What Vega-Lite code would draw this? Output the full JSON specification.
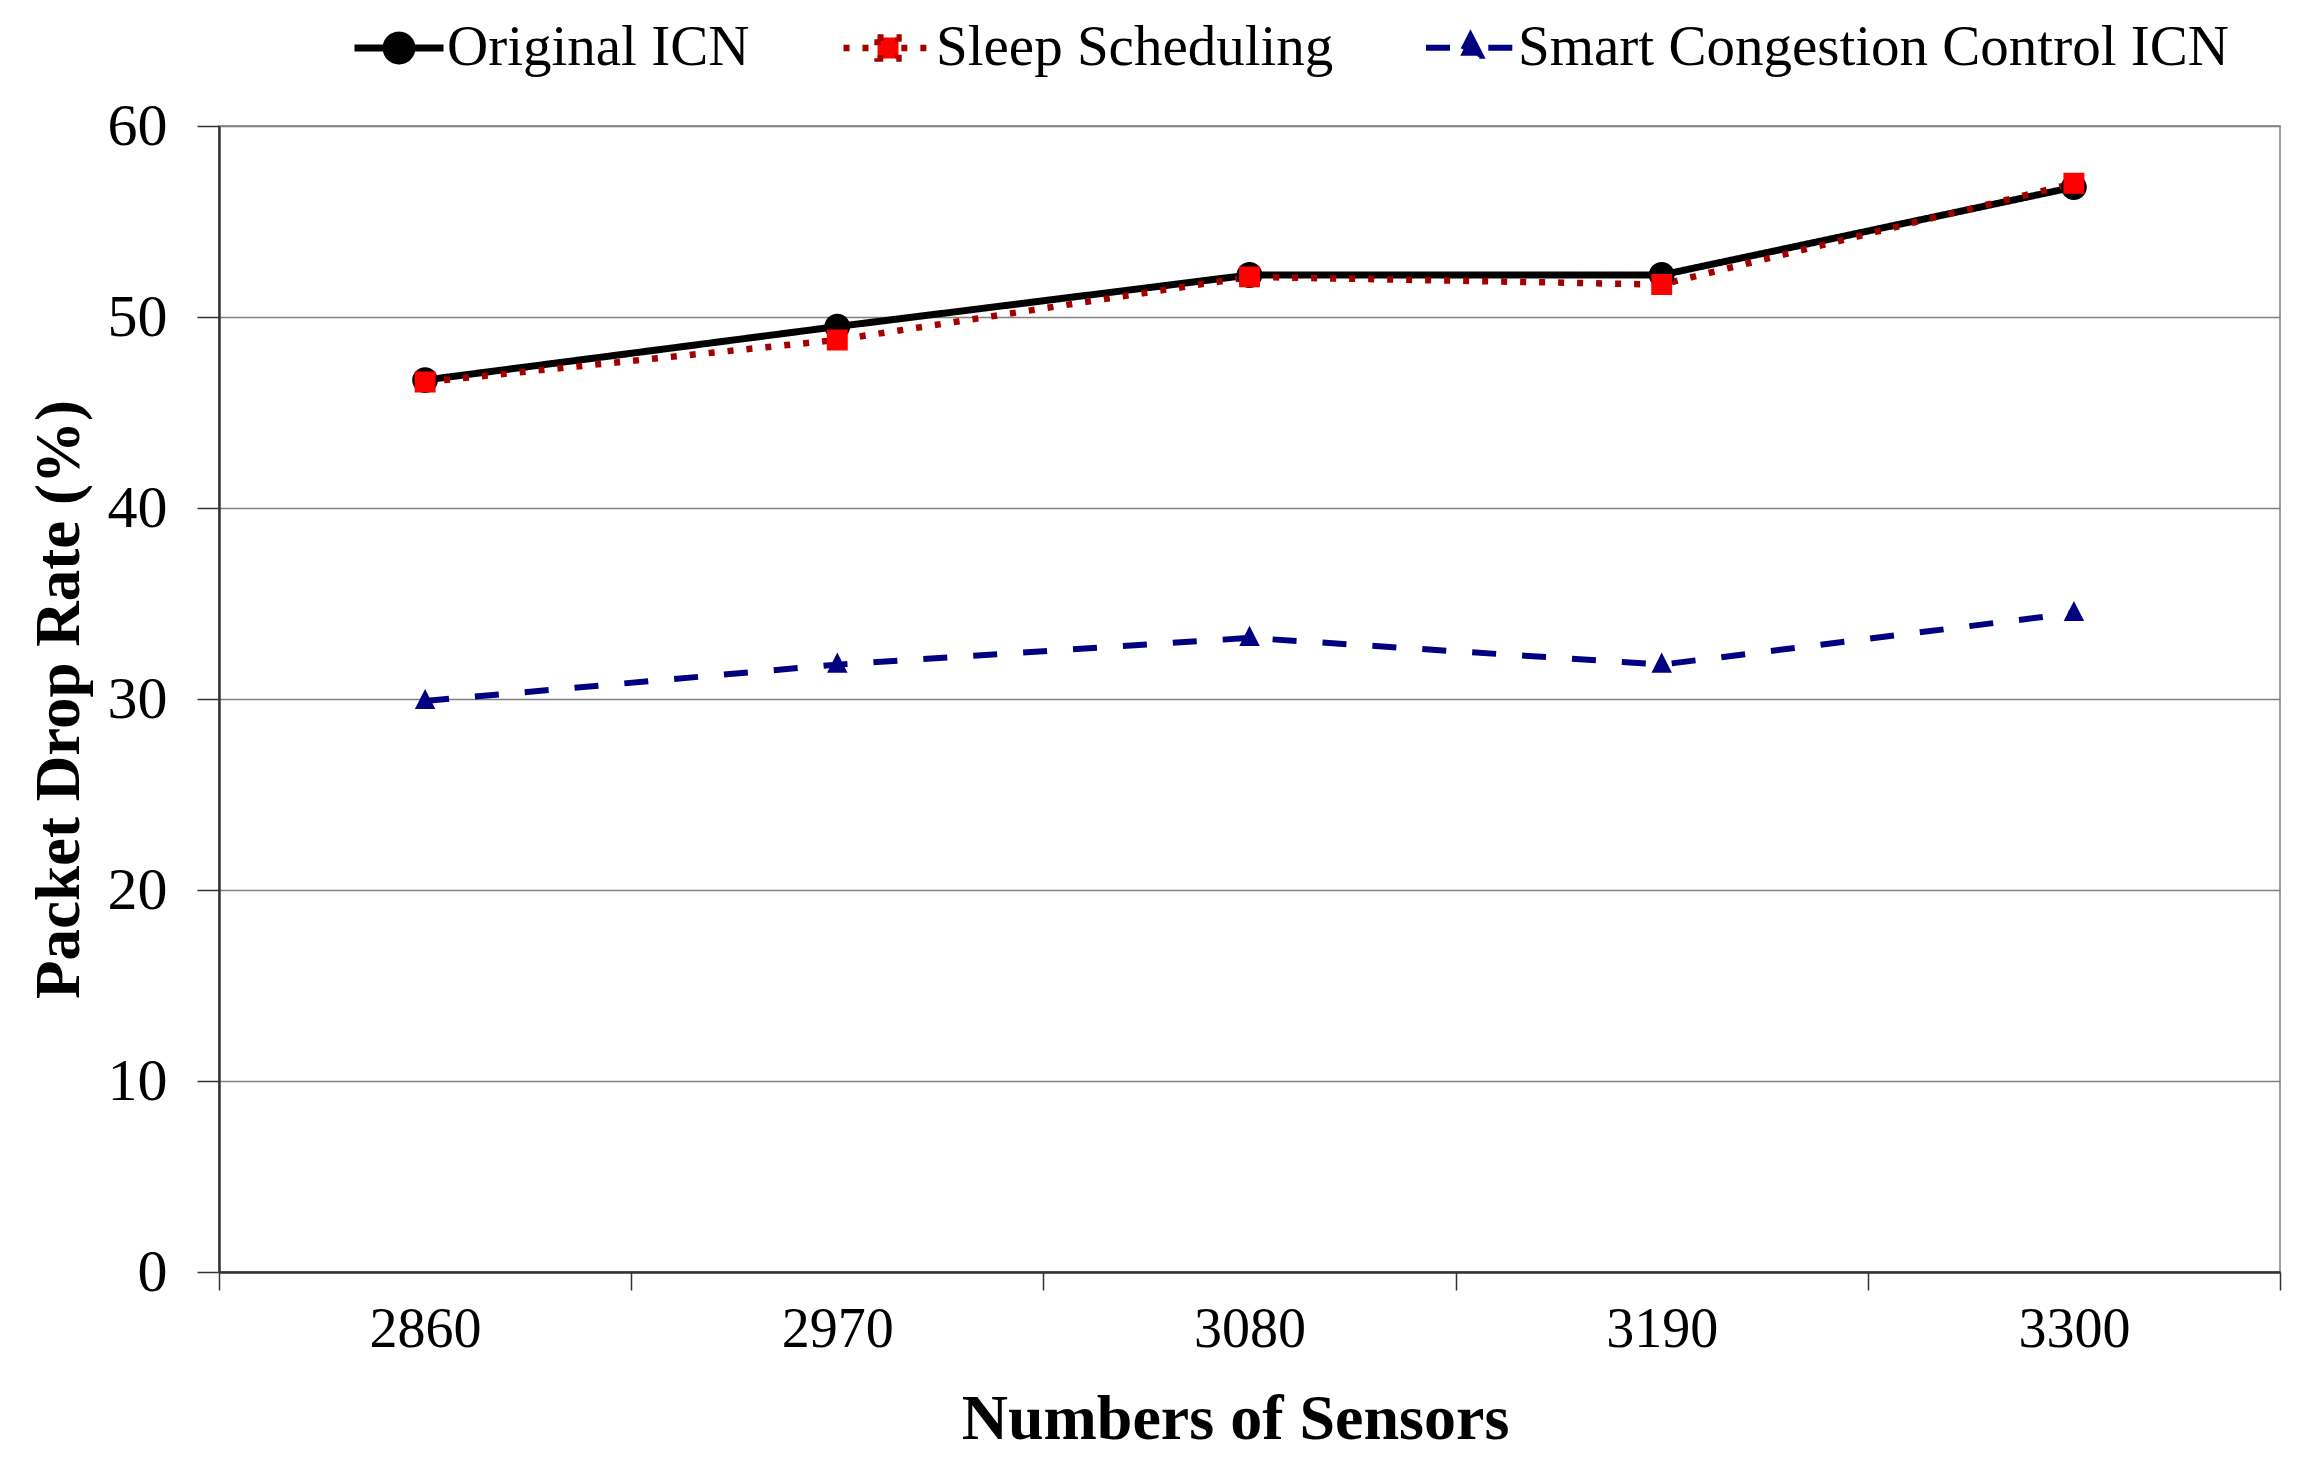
{
  "$schema": "https://vega.github.io/schema/vega-lite/v6.json",
  "width": 2061,
  "height": 1146,
  "autosize": {"type": "none"},
  "padding": {"left": 219, "top": 126, "right": 32, "bottom": 212},
  "background": "white",
  "config": {
    "font": "Liberation Serif",
    "view": {"stroke": "#808080", "strokeWidth": 1.5},
    "legend": {
      "orient": "none",
      "legendX": 132,
      "legendY": -126,
      "direction": "horizontal",
      "padding": 0,
      "labelFont": "Liberation Serif",
      "labelFontSize": 57,
      "labelColor": "#000000",
      "labelLimit": 1000,
      "labelOffset": 0,
      "columnPadding": 80,
      "symbolSize": 7921,
      "symbolOpacity": 1
    }
  },
  "data": {
    "values": [
      {"sensors": "2860", "series": "Original ICN", "rate": 46.7},
      {"sensors": "2970", "series": "Original ICN", "rate": 49.5},
      {"sensors": "3080", "series": "Original ICN", "rate": 52.2},
      {"sensors": "3190", "series": "Original ICN", "rate": 52.2},
      {"sensors": "3300", "series": "Original ICN", "rate": 56.8},
      {"sensors": "2860", "series": "Sleep Scheduling", "rate": 46.6},
      {"sensors": "2970", "series": "Sleep Scheduling", "rate": 48.8},
      {"sensors": "3080", "series": "Sleep Scheduling", "rate": 52.1},
      {"sensors": "3190", "series": "Sleep Scheduling", "rate": 51.7},
      {"sensors": "3300", "series": "Sleep Scheduling", "rate": 57.0},
      {"sensors": "2860", "series": "Smart Congestion Control ICN", "rate": 29.9},
      {"sensors": "2970", "series": "Smart Congestion Control ICN", "rate": 31.8},
      {"sensors": "3080", "series": "Smart Congestion Control ICN", "rate": 33.2},
      {"sensors": "3190", "series": "Smart Congestion Control ICN", "rate": 31.8},
      {"sensors": "3300", "series": "Smart Congestion Control ICN", "rate": 34.5}
    ]
  },
  "encoding": {
    "x": {
      "field": "sensors",
      "type": "ordinal",
      "scale": {"type": "band", "paddingInner": 0, "paddingOuter": 0},
      "axis": {
        "tickBand": "extent",
        "grid": false,
        "labelAngle": 0,
        "domainColor": "#333333",
        "domainWidth": 2.5,
        "tickColor": "#333333",
        "tickWidth": 1.5,
        "tickSize": 18,
        "labelFont": "Liberation Serif",
        "labelFontSize": 56,
        "labelColor": "#000000",
        "labelPadding": 12,
        "title": "Numbers of Sensors",
        "titleFont": "Liberation Serif",
        "titleFontSize": 64,
        "titleFontWeight": "bold",
        "titleColor": "#000000",
        "titlePadding": 30,
        "titleX": 1016
      }
    },
    "y": {
      "field": "rate",
      "type": "quantitative",
      "scale": {"domain": [0, 60], "nice": false},
      "axis": {
        "values": [0, 10, 20, 30, 40, 50, 60],
        "grid": true,
        "gridColor": "#808080",
        "gridWidth": 1.5,
        "domainColor": "#333333",
        "domainWidth": 2.5,
        "tickColor": "#333333",
        "tickWidth": 1.5,
        "tickSize": 22,
        "labelFont": "Liberation Serif",
        "labelFontSize": 60,
        "labelColor": "#000000",
        "labelPadding": 30,
        "title": "Packet Drop Rate (%)",
        "titleFont": "Liberation Serif",
        "titleFontSize": 63,
        "titleFontWeight": "bold",
        "titleColor": "#000000",
        "titlePadding": 16
      }
    }
  },
  "layer": [
    {
      "mark": {"type": "line", "strokeCap": "butt"},
      "encoding": {
        "color": {
          "field": "series",
          "type": "nominal",
          "scale": {
            "domain": ["Original ICN", "Sleep Scheduling", "Smart Congestion Control ICN"],
            "range": ["#000000", "#A50000", "#000080"]
          },
          "legend": {"title": null}
        },
        "strokeDash": {
          "field": "series",
          "type": "nominal",
          "scale": {
            "domain": ["Original ICN", "Sleep Scheduling", "Smart Congestion Control ICN"],
            "range": [[1, 0], [6, 13], [24, 26]]
          },
          "legend": {"title": null}
        },
        "strokeWidth": {
          "field": "series",
          "type": "nominal",
          "scale": {
            "domain": ["Original ICN", "Sleep Scheduling", "Smart Congestion Control ICN"],
            "range": [7, 6, 5.5]
          },
          "legend": {"title": null}
        }
      }
    },
    {
      "mark": {"type": "point", "filled": true, "opacity": 1, "strokeWidth": 0, "size": 7921},
      "encoding": {
        "shape": {
          "field": "series",
          "type": "nominal",
          "scale": {
            "domain": ["Original ICN", "Sleep Scheduling", "Smart Congestion Control ICN"],
            "range": [
              "M-1,0H1 M-0.29,0A0.29,0.29 0 1,1 0.29,0A0.29,0.29 0 1,1 -0.29,0Z",
              "M-1,0H-0.3 M0.3,0H1 M-0.235,-0.235H0.235V0.235H-0.235Z",
              "M-1,0H-0.4 M0.4,0H1 M0,-0.27L0.23,0.18L-0.23,0.18Z"
            ]
          },
          "legend": {"title": null}
        },
        "fill": {
          "field": "series",
          "type": "nominal",
          "scale": {
            "domain": ["Original ICN", "Sleep Scheduling", "Smart Congestion Control ICN"],
            "range": ["#000000", "#FF0000", "#000080"]
          },
          "legend": {"title": null}
        }
      }
    }
  ]
}
